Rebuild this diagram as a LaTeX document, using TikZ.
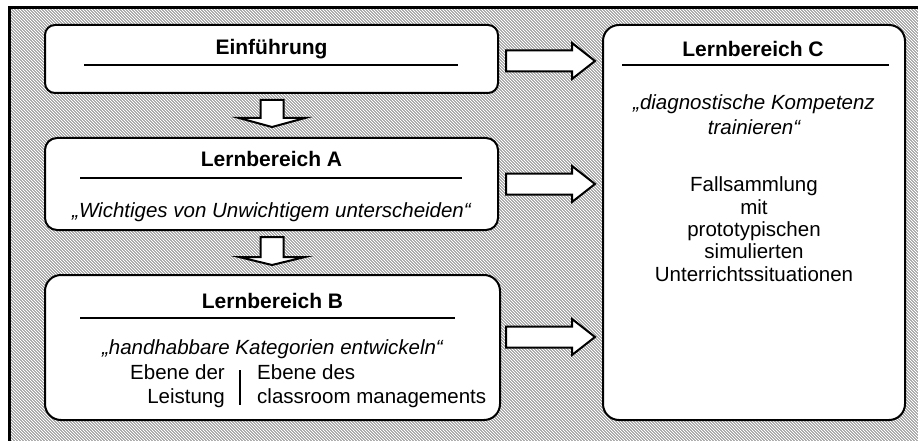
\documentclass[tikz,border=0pt]{standalone}
\usepackage{fontspec}
\setmainfont{Liberation Sans}
\usetikzlibrary{calc}
\begin{document}
\begin{tikzpicture}[x=1pt,y=-1pt,
  box/.style={draw=black, line width=2pt, fill=white, rounded corners=#1, inner sep=0pt},
  ttl/.style={font=\bfseries\fontsize{21}{24}\selectfont, anchor=base, inner sep=0pt},
  itx/.style={font=\itshape\fontsize{20.5}{24}\selectfont, anchor=base, inner sep=0pt},
  txt/.style={font=\fontsize{20.5}{24}\selectfont, anchor=base, inner sep=0pt},
  rule/.style={line width=1.8pt},
  arr/.style={draw=black, line width=2pt, fill=white, line join=miter},
  hatch/.style={line width=0.65pt, black!65}]
\useasboundingbox (0,0) rectangle (918,441);
% hatched background
\begin{scope}
  \clip (9.5,7.5) rectangle (918,441);
  \foreach \i in {-440,-437,...,918} \draw[hatch] (\i,7.5) -- ++(440,440);
\end{scope}
\draw[line width=3.5pt, line cap=rect] (918,7.5) -- (9.5,7.5) -- (9.5,441);

% boxes
\node[box=10pt, minimum width=453pt, minimum height=68pt] (einf) at (271.5,59) {};
\node[box=12pt, minimum width=453pt, minimum height=92pt] (lbA) at (271.5,184) {};
\node[box=16pt, minimum width=455pt, minimum height=145pt] (lbB) at (272.5,347.5) {};
\node[box=16pt, minimum width=302pt, minimum height=395pt] (lbC) at (754,222.5) {};

% down arrows
\draw[arr] (260.5,100) -- (283.5,100) -- (283.5,118) -- (305,118) -- (272,127) -- (239,118) -- (260.5,118) -- cycle;
\draw[arr] (260.5,237) -- (283.5,237) -- (283.5,257) -- (305,257) -- (272,265) -- (239,257) -- (260.5,257) -- cycle;

% right arrows
\foreach \yc in {61,184,337}
  \draw[arr] (506,\yc-10.5) -- (572,\yc-10.5) -- (572,\yc-18) -- (595,\yc) -- (572,\yc+18) -- (572,\yc+10.5) -- (506,\yc+10.5) -- cycle;

% Einfuehrung
\node[ttl] (t1) at (271.5,55) {Einführung};
\draw[rule] (84,65) -- (458,65);

% Lernbereich A
\node[ttl] (t2) at (271.5,167) {Lernbereich A};
\draw[rule] (80,178) -- (462,178);
\node[itx] (a1) at (271.5,217) {„Wichtiges von Unwichtigem unterscheiden“};

% Lernbereich B
\node[ttl] (t3) at (272.5,308.5) {Lernbereich B};
\draw[rule] (80,318) -- (455,318);
\node[itx] (b1) at (272.5,354) {„handhabbare Kategorien entwickeln“};
\node[txt, anchor=base east] (b2) at (225,379) {Ebene der};
\node[txt, anchor=base east] (b3) at (225,403) {Leistung};
\node[txt, anchor=base west] (b4) at (257,379) {Ebene des};
\node[txt, anchor=base west] (b5) at (257,403) {classroom managements};
\draw[line width=2.5pt] (240,370) -- (240,405);

% Lernbereich C
\node[ttl] (t4) at (753,56.7) {Lernbereich C};
\draw[rule] (622,65) -- (889,65);
\node[itx] (c1) at (754,110) {„diagnostische Kompetenz};
\node[itx] (c2) at (754,135) {trainieren“};
\node[txt] (c3) at (754,191.7) {Fallsammlung};
\node[txt] (c4) at (754,214) {mit};
\node[txt] (c5) at (754,236.3) {prototypischen};
\node[txt] (c6) at (754,258.6) {simulierten};
\node[txt] (c7) at (754,281) {Unterrichtssituationen};
\end{tikzpicture}
\end{document}
